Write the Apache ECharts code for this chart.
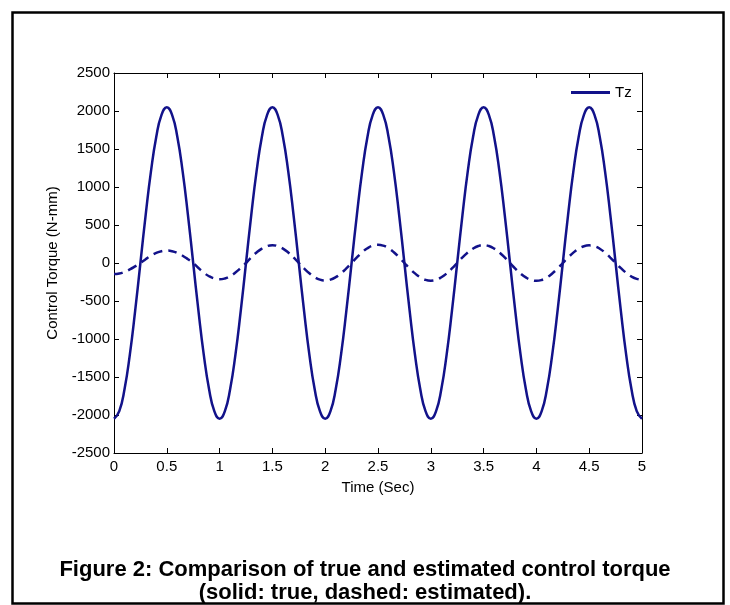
<!DOCTYPE html>
<html>
<head>
<meta charset="utf-8">
<script src="https://cdn.jsdelivr.net/npm/echarts@6/dist/echarts.min.js"></script>
<style>
html,body{margin:0;padding:0;background:#fff;}
#c{width:730px;height:605px;}
</style>
</head>
<body>
<div id="c"></div>
<script>
// Time samples (s)
const time = [];
for (let k = 0; k <= 100; k++) time.push(+(k * 0.05).toFixed(2));

// True control torque Tz (N-mm)
const trueTorque = [
  -2050,-1950,-1658,-1205,-633,0,633,1205,1658,1950,2050,1950,1658,1205,633,0,-633,-1205,-1658,-1950,
  -2050,-1950,-1658,-1205,-633,0,633,1205,1658,1950,2050,1950,1658,1205,633,0,-633,-1205,-1658,-1950,
  -2050,-1950,-1658,-1205,-633,0,633,1205,1658,1950,2050,1950,1658,1205,633,0,-633,-1205,-1658,-1950,
  -2050,-1950,-1658,-1205,-633,0,633,1205,1658,1950,2050,1950,1658,1205,633,0,-633,-1205,-1658,-1950,
  -2050,-1950,-1658,-1205,-633,0,633,1205,1658,1950,2050,1950,1658,1205,633,0,-633,-1205,-1658,-1950,
  -2050
];

// Estimated control torque (N-mm)
const estTorque = [
  -145,-138,-117,-85,-45,0,50,96,132,155,163,155,132,96,50,0,-66,-126,-174,-204,
  -215,-204,-174,-126,-66,0,73,138,190,223,235,223,190,138,73,0,-71,-135,-186,-219,
  -230,-219,-186,-135,-71,0,74,141,194,228,240,228,194,141,74,0,-72,-137,-188,-222,
  -233,-222,-188,-137,-72,0,73,138,190,223,235,223,190,138,73,0,-73,-138,-190,-223,
  -235,-223,-190,-138,-73,0,72,136,188,221,232,221,188,136,72,0,-68,-129,-178,-209,
  -220
];

const xTicks = [0, 0.5, 1, 1.5, 2, 2.5, 3, 3.5, 4, 4.5, 5];
const yTicks = [-2500,-2000,-1500,-1000,-500,0,500,1000,1500,2000,2500];

const lineColor = '#12128a';
const font = 'Liberation Sans, Arial, sans-serif';

const chart = echarts.init(document.getElementById('c'), null, {renderer: 'canvas'});

const axisCommon = {
  axisLine: {show: true, onZero: false, lineStyle: {color: '#000', width: 1}},
  axisTick: {show: true, inside: true, length: 5, lineStyle: {color: '#000', width: 1}},
  splitLine: {show: false}
};

chart.setOption({
  animation: false,
  backgroundColor: '#fff',
  textStyle: {fontFamily: font},
  title: {
    text: 'Figure 2: Comparison of true and estimated control torque\n(solid: true, dashed: estimated).',
    left: 'center',
    top: 553,
    textStyle: {fontFamily: font, fontWeight: 'bold', fontSize: 22, color: '#000', lineHeight: 23}
  },
  legend: {
    data: ['Tz'],
    left: 566,
    top: 80,
    icon: 'rect',
    itemWidth: 39,
    itemHeight: 3,
    textStyle: {fontFamily: font, fontSize: 15, color: '#000'}
  },
  grid: {left: 114, right: 88, top: 73, bottom: 152, containLabel: false},
  xAxis: [
    Object.assign({}, axisCommon, {
      type: 'value', min: 0, max: 5, interval: 0.5, position: 'bottom',
      name: 'Time (Sec)', nameLocation: 'middle', nameGap: 27,
      nameTextStyle: {fontFamily: font, fontSize: 15, color: '#000'},
      axisLabel: {show: true, margin: 6, fontFamily: font, fontSize: 15, color: '#000',
        formatter: v => String(xTicks.find(t => Math.abs(t - v) < 1e-9) ?? v)}
    }),
    Object.assign({}, axisCommon, {
      type: 'value', min: 0, max: 5, interval: 0.5, position: 'top',
      axisLabel: {show: false}
    })
  ],
  yAxis: [
    Object.assign({}, axisCommon, {
      type: 'value', min: -2500, max: 2500, interval: 500, position: 'left',
      name: 'Control Torque (N-mm)', nameLocation: 'middle', nameGap: 50, nameRotate: 90,
      nameTextStyle: {fontFamily: font, fontSize: 15, color: '#000'},
      axisLabel: {show: true, margin: 4, fontFamily: font, fontSize: 15, color: '#000',
        formatter: v => String(yTicks.find(t => t === v) ?? v)}
    }),
    Object.assign({}, axisCommon, {
      type: 'value', min: -2500, max: 2500, interval: 500, position: 'right',
      axisLabel: {show: false}
    })
  ],
  series: [
    {
      name: 'Tz', type: 'line', smooth: true, showSymbol: false, symbol: 'none',
      data: time.map((t, i) => [t, trueTorque[i]]),
      lineStyle: {color: lineColor, width: 2.5},
      itemStyle: {color: lineColor},
      z: 3
    },
    {
      name: 'Tz (estimated)', type: 'line', smooth: true, showSymbol: false, symbol: 'none',
      data: time.map((t, i) => [t, estTorque[i]]),
      lineStyle: {color: lineColor, width: 2.5, type: [9, 6]},
      itemStyle: {color: lineColor},
      z: 2
    }
  ],
  graphic: [
    {
      type: 'rect', left: 10, top: 10, silent: true,
      shape: {width: 711, height: 591},
      style: {fill: 'none', stroke: '#000', lineWidth: 2.5}
    }
  ]
});
</script>
</body>
</html>
